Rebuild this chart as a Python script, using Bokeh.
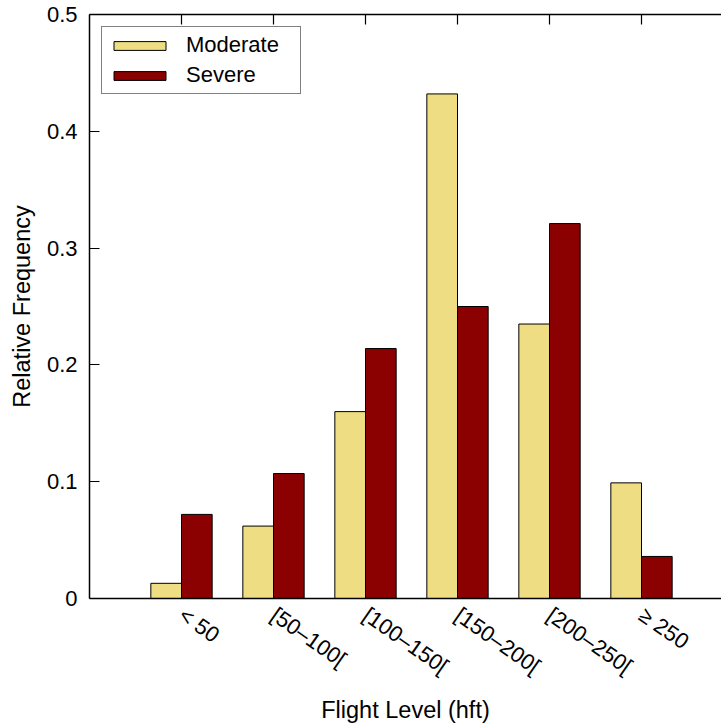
import math
from bokeh.plotting import figure
from bokeh.models import Range1d, FixedTicker, LinearAxis, Legend, CustomLabelingPolicy
from bokeh.embed import file_html
from bokeh.resources import INLINE

categories = ["< 50", "[50–100[", "[100–150[", "[150–200[", "[200–250[", "≥ 250"]
moderate = [0.013, 0.062, 0.160, 0.432, 0.235, 0.099]
severe = [0.072, 0.107, 0.214, 0.250, 0.321, 0.036]
y_ticks = [0, 0.1, 0.2, 0.3, 0.4, 0.5]

FONT = "Liberation Sans"
pos = list(range(1, len(categories) + 1))
bw = 1.0 / 3.0

p = figure(width=721, height=726, output_backend="svg", toolbar_location=None,
           x_range=Range1d(0, (721 - 89) / 92.0), y_range=Range1d(0, 0.5),
           min_border_left=89, min_border_right=0, min_border_top=14,
           min_border_bottom=128, x_axis_location=None, y_axis_location=None)
p.grid.visible = False
p.outline_line_color = None
p.background_fill_color = "white"
p.border_fill_color = "white"

r1 = p.vbar(x=[x - bw / 2 for x in pos], top=moderate, width=bw, bottom=0,
            fill_color="#EEDD82", line_color="black", line_width=1)
r2 = p.vbar(x=[x + bw / 2 for x in pos], top=severe, width=bw, bottom=0,
            fill_color="#8B0000", line_color="black", line_width=1)

# left axis
ya = LinearAxis(ticker=FixedTicker(ticks=y_ticks), axis_label="Relative Frequency")
ya.major_label_overrides = {0: "0"}
ya.major_tick_in = 10
ya.major_tick_out = 0
ya.minor_tick_line_color = None
ya.axis_line_width = 1.5
ya.major_tick_line_width = 1.2
ya.major_label_text_font = FONT
ya.major_label_text_font_size = "22px"
ya.major_label_text_color = "black"
ya.major_label_standoff = 12
ya.axis_label_text_font = FONT
ya.axis_label_text_font_size = "23.5px"
ya.axis_label_text_font_style = "normal"
ya.axis_label_text_color = "black"
ya.axis_label_standoff = 9
p.add_layout(ya, "left")

# bottom axis
xa = LinearAxis(ticker=FixedTicker(ticks=pos), axis_label="Flight Level (hft)")
xa.major_label_overrides = {i: c for i, c in zip(pos, categories)}
xa.major_label_orientation = -math.radians(35)
xa.major_tick_in = 0
xa.major_tick_out = 0
xa.minor_tick_line_color = None
xa.axis_line_width = 1.5
xa.major_label_text_font = FONT
xa.major_label_text_font_size = "22px"
xa.major_label_text_color = "black"
xa.major_label_standoff = 14
xa.axis_label_text_font = FONT
xa.axis_label_text_font_size = "23.5px"
xa.axis_label_text_font_style = "normal"
xa.axis_label_text_color = "black"
xa.axis_label_standoff = 5
p.add_layout(xa, "below")

# top axis (ticks only, labels suppressed by policy)
ta = LinearAxis(ticker=FixedTicker(ticks=pos))
ta.major_label_policy = CustomLabelingPolicy(code="return []")
ta.major_label_text_font_size = "1px"
ta.major_label_standoff = 0
ta.major_tick_in = 10
ta.major_tick_out = 0
ta.minor_tick_line_color = None
ta.axis_line_width = 1.5
ta.major_tick_line_width = 1.2
p.add_layout(ta, "above")

legend = Legend(items=[("Moderate", [r1]), ("Severe", [r2])], location="top_left")
legend.margin = 12
legend.padding = 5
legend.spacing = 4
legend.glyph_width = 65
legend.glyph_height = 11
legend.label_standoff = 14
legend.label_width = 109
legend.label_text_font = FONT
legend.label_text_font_size = "22px"
legend.label_text_color = "black"
legend.border_line_color = "black"
legend.border_line_width = 1
legend.background_fill_alpha = 1.0
p.add_layout(legend, "center")

open("out.html", "w").write(file_html(p, INLINE))
